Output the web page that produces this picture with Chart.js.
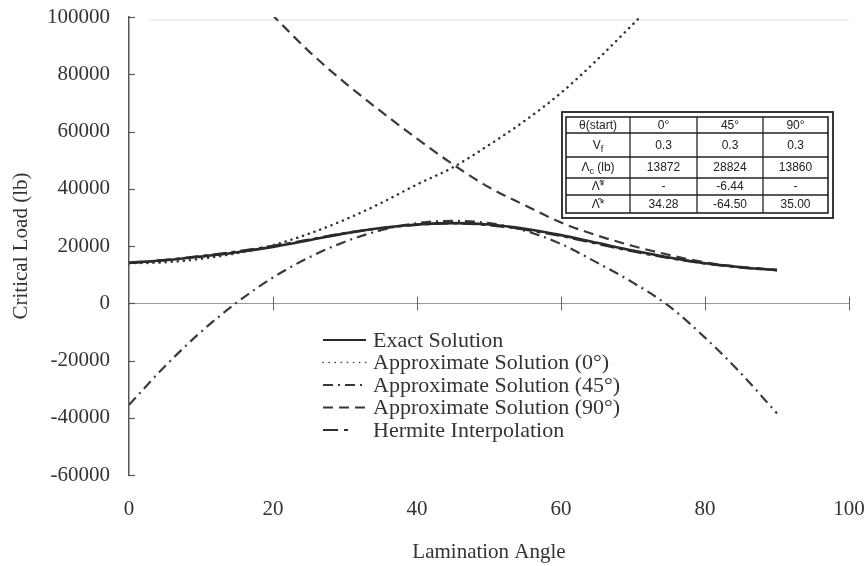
<!DOCTYPE html>
<html>
<head>
<meta charset="utf-8">
<script src="https://cdn.jsdelivr.net/npm/chart.js@4.4.1/dist/chart.umd.min.js"></script>
<style>
  html, body { margin: 0; padding: 0; background: #fff; }
  canvas { display: block; }
</style>
</head>
<body>
<canvas id="chart" width="866" height="566"></canvas>
<script>
// Lamination angle (degrees)
const angles = [0, 5, 10, 15, 20, 25, 30, 35, 40, 45, 50, 55, 60, 65, 70, 75, 80, 85, 90];

// Critical load (lb) for each solution
const exactSolution = [14200, 15000, 16300, 17800, 19700, 22000, 24400, 26300, 27500, 28000, 27500, 26000, 23800, 21100, 18400, 16000, 14000, 12600, 11500];
const approx0 = [14000, 14300, 15500, 17500, 20300, 24300, 29200, 35000, 41500, 47500, 55300, 63800, 73500, 85000, 97500, 110000, null, null, null];
const approx45 = [-35500, -22000, -10000, 300, 9000, 16000, 21500, 25500, 28000, 28800, 28000, 25300, 20700, 14200, 7200, -1000, -12000, -24500, -38500];
const approx90 = [null, null, null, 113000, 100500, 88000, 77000, 67000, 57500, 48500, 40500, 34200, 28200, 23700, 20000, 16900, 14300, 12700, 11700];
const hermite = [14000, 15100, 16500, 18100, 20000, 22200, 24500, 26200, 27400, 27900, 27300, 25700, 23500, 20800, 18100, 15800, 13900, 12500, 11600];

const seriesLabels = [
  'Exact Solution',
  'Approximate Solution (0°)',
  'Approximate Solution (45°)',
  'Approximate Solution (90°)',
  'Hermite Interpolation'
];

const xTickValues = [0, 20, 40, 60, 80, 100];
const yTickValues = [-60000, -40000, -20000, 0, 20000, 40000, 60000, 80000, 100000];

// Inset table: header and rows (label = [main, subscript, tail])
const tableHead = ['θ(start)', '0°', '45°', '90°'];
const tableRowLabels = [['V', 'f', ''], ['Λ', 'c', ' (lb)'], ['Λ̃*', '', ''], ['Λ̂*', '', '']];
const tableRowValues = [
  ['0.3', '0.3', '0.3'],
  ['13872', '28824', '13860'],
  ['-', '-6.44', '-'],
  ['34.28', '-64.50', '35.00']
];

const serif = '"Liberation Serif", "Times New Roman", serif';
const textColor = '#333';

function pairs(values) {
  return angles.map((a, i) => ({ x: a, y: values[i] }));
}

const datasets = [
  { label: seriesLabels[0], data: pairs(exactSolution), borderColor: '#2a2a2a', borderWidth: 2.6, borderDash: [] },
  { label: seriesLabels[1], data: pairs(approx0), borderColor: '#333', borderWidth: 2.5, borderDash: [0.1, 6], borderCapStyle: 'round' },
  { label: seriesLabels[2], data: pairs(approx45), borderColor: '#3a3a3a', borderWidth: 2.2, borderDash: [10, 5, 2, 5] },
  { label: seriesLabels[3], data: pairs(approx90), borderColor: '#3a3a3a', borderWidth: 2.2, borderDash: [10, 6] },
  { label: seriesLabels[4], data: pairs(hermite), borderColor: '#2e2e2e', borderWidth: 2.4, borderDash: [14, 5, 4, 5] }
];

function strokeLine(ctx, x1, y1, x2, y2) {
  ctx.beginPath();
  ctx.moveTo(x1, y1);
  ctx.lineTo(x2, y2);
  ctx.stroke();
}

const decorations = {
  id: 'decorations',
  beforeDatasetsDraw(chart) {
    const { ctx, chartArea: a, scales: { x, y } } = chart;
    ctx.save();
    // faint line along the top of the plot
    ctx.strokeStyle = '#dcdcdc';
    ctx.lineWidth = 1;
    const yTop = y.getPixelForValue(y.max) + 3;
    strokeLine(ctx, a.left + 20, yTop, a.right, yTop);
    // zero axis with crossing ticks
    const y0 = Math.round(y.getPixelForValue(0)) + 0.5;
    ctx.strokeStyle = '#9a9a9a';
    strokeLine(ctx, a.left, y0, a.right, y0);
    ctx.strokeStyle = '#666';
    xTickValues.slice(1).forEach(v => {
      const px = Math.round(x.getPixelForValue(v)) + 0.5;
      strokeLine(ctx, px, y0 - 7, px, y0 + 7);
    });
    // inward ticks on the value axis
    ctx.strokeStyle = '#555';
    ctx.lineWidth = 1.2;
    yTickValues.forEach(v => {
      const py = Math.round(y.getPixelForValue(v)) + 0.5;
      strokeLine(ctx, a.left, py, a.left + 6, py);
    });
    ctx.restore();
  },
  afterDraw(chart) {
    const { ctx } = chart;
    ctx.save();

    // legend inside the plot
    const lx = 323, ly = 340, rowH = 22.5;
    chart.data.datasets.forEach((ds, i) => {
      const yy = ly + i * rowH;
      const len = i === 4 ? 26 : 43;
      ctx.strokeStyle = ds.borderColor;
      ctx.lineWidth = i === 1 ? 1.6 : 2.2;
      ctx.lineCap = ds.borderCapStyle || 'butt';
      ctx.setLineDash(i === 4 ? [15, 6, 4, 20] : ds.borderDash);
      strokeLine(ctx, lx, yy, lx + len, yy);
      ctx.setLineDash([]);
      ctx.fillStyle = textColor;
      ctx.font = '22px ' + serif;
      ctx.textAlign = 'left';
      ctx.textBaseline = 'middle';
      ctx.fillText(ds.label, 373, yy + 1);
    });

    // inset table
    const ox1 = 562, oy1 = 112, ox2 = 833, oy2 = 218;
    const ix1 = 566, iy1 = 117, ix2 = 828, iy2 = 213;
    const colX = [ix1, 630, 697, 763, ix2];
    const rowY = [iy1, 133, 157, 178, 195, iy2];
    ctx.fillStyle = '#fff';
    ctx.fillRect(ox1, oy1, ox2 - ox1, oy2 - oy1);
    ctx.strokeStyle = '#222';
    ctx.lineWidth = 1.8;
    ctx.strokeRect(ox1, oy1, ox2 - ox1, oy2 - oy1);
    ctx.lineWidth = 1.6;
    ctx.strokeRect(ix1, iy1, ix2 - ix1, iy2 - iy1);
    ctx.lineWidth = 1.3;
    colX.slice(1, -1).forEach(cx => strokeLine(ctx, cx, iy1, cx, iy2));
    rowY.slice(1, -1).forEach(ry => strokeLine(ctx, ix1, ry, ix2, ry));

    ctx.fillStyle = '#222';
    ctx.textBaseline = 'middle';
    const font = '12px "Liberation Sans", Arial, sans-serif';
    const subFont = '9px "Liberation Sans", Arial, sans-serif';
    const cellCenter = c => (colX[c] + colX[c + 1]) / 2;
    const rowCenter = r => (rowY[r] + rowY[r + 1]) / 2 + 0.5;

    ctx.font = font;
    ctx.textAlign = 'center';
    tableHead.forEach((t, c) => ctx.fillText(t, cellCenter(c), rowCenter(0)));

    tableRowLabels.forEach((parts, r) => {
      const [main, sub, tail] = parts;
      ctx.font = font;
      const wMain = ctx.measureText(main).width;
      const wTail = ctx.measureText(tail).width;
      ctx.font = subFont;
      const wSub = ctx.measureText(sub).width;
      let cx = cellCenter(0) - (wMain + wSub + wTail) / 2;
      const cy = rowCenter(r + 1);
      ctx.textAlign = 'left';
      ctx.font = font;
      ctx.fillText(main, cx, cy);
      cx += wMain;
      ctx.font = subFont;
      ctx.fillText(sub, cx, cy + 4);
      cx += wSub;
      ctx.font = font;
      ctx.fillText(tail, cx, cy);
    });

    ctx.textAlign = 'center';
    ctx.font = font;
    tableRowValues.forEach((vals, r) => {
      vals.forEach((v, c) => ctx.fillText(v, cellCenter(c + 1), rowCenter(r + 1)));
    });

    ctx.restore();
  }
};

new Chart(document.getElementById('chart'), {
  type: 'line',
  data: { datasets },
  options: {
    responsive: false,
    animation: false,
    layout: { padding: { left: 0, right: 17, top: 17, bottom: 0 } },
    plugins: { legend: { display: false }, tooltip: { enabled: false } },
    elements: {
      point: { radius: 0 },
      line: { cubicInterpolationMode: 'monotone', fill: false }
    },
    scales: {
      x: {
        type: 'linear',
        min: 0,
        max: 100,
        afterBuildTicks: s => { s.ticks = xTickValues.map(v => ({ value: v })); },
        afterFit: s => { s.height = 91; s.paddingLeft = 0; s.paddingRight = 0; },
        grid: { display: false, drawTicks: false },
        border: { display: false },
        ticks: { padding: 22, color: textColor, font: { family: serif, size: 21 } },
        title: { display: true, text: 'Lamination Angle', color: textColor, font: { family: serif, size: 21 }, padding: { top: 0, bottom: 1 } }
      },
      y: {
        type: 'linear',
        min: -60000,
        max: 100000,
        afterBuildTicks: s => { s.ticks = yTickValues.map(v => ({ value: v })); },
        afterFit: s => { s.width = 129; s.paddingTop = 0; s.paddingBottom = 0; },
        grid: { display: false, drawTicks: false },
        border: { display: true, color: '#555', width: 1.5 },
        ticks: { padding: 19, color: textColor, font: { family: serif, size: 21 }, callback: v => String(v) },
        title: { display: true, text: 'Critical Load (lb)', color: textColor, font: { family: serif, size: 21 }, padding: { top: 9, bottom: 0 } }
      }
    }
  },
  plugins: [decorations]
});
</script>
</body>
</html>
